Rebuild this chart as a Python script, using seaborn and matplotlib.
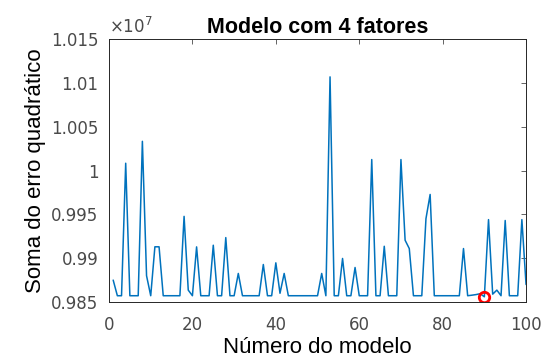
import matplotlib
matplotlib.use("Agg")
import matplotlib.pyplot as plt
import matplotlib.ticker as mticker
import numpy as np
import pandas as pd
import seaborn as sns

# Sum of squared errors per model (in units of 1e7)
B = 0.98572
modelo = list(range(1, 101))
sse = [
    0.98750, B, B, 1.00083, B, B, B, 1.00333, 0.98800, B,          # 1-10
    0.99130, 0.99130, B, B, B, B, B, 0.99477, 0.98636, B,           # 11-20
    0.99129, B, B, B, 0.99148, B, B, 0.99235, B, B,                 # 21-30
    0.98826, B, B, B, B, B, 0.98928, B, B, 0.98947,                 # 31-40
    0.98600, 0.98826, B, B, B, B, B, B, B, B,                       # 41-50
    0.98826, B, 1.01068, B, B, 0.98997, B, B, 0.98894, B,           # 51-60
    B, B, 1.00125, B, B, 0.99136, B, B, B, 1.00125,                 # 61-70
    0.99205, 0.99110, B, B, B, 0.99451, 0.99727, B, B, B,           # 71-80
    B, B, B, B, 0.99110, B, 0.98578, 0.98585, 0.98595, 0.98560,     # 81-90
    0.99440, 0.98590, 0.98636, B, 0.99430, B, B, B, 0.99440, 0.98700,  # 91-100
]
escala = 1e7
melhor_modelo = 90
x_ticks = [0, 20, 40, 60, 80, 100]
y_ticks = [0.985, 0.99, 0.995, 1.0, 1.005, 1.01, 1.015]

df = pd.DataFrame({"modelo": modelo, "sse": np.array(sse) * escala})

sns.set_style("white")
plt.rcParams["font.family"] = ["Liberation Sans", "DejaVu Sans"]

fig = plt.figure(figsize=(5.44, 3.60), dpi=100)
ax = fig.add_axes([0.2004, 0.161, 0.7666, 0.7307])

sns.lineplot(data=df, x="modelo", y="sse", ax=ax, color="#0072BD", linewidth=1.1)

best = df[df["modelo"] == melhor_modelo]
ax.plot(best["modelo"], best["sse"], linestyle="none", marker="o",
        markersize=7.5, markerfacecolor="none", markeredgecolor="#FF0000",
        markeredgewidth=2)

ax.set_xlim(0, 100)
ax.set_ylim(y_ticks[0] * escala, y_ticks[-1] * escala)
ax.set_xticks(x_ticks)
ax.set_yticks([v * escala for v in y_ticks])
ax.yaxis.set_major_formatter(mticker.FuncFormatter(lambda v, p: f"{v / escala:g}"))

tick_gray = "#4a4a4a"
ax.tick_params(axis="both", which="both", direction="in", length=3.5, width=0.6,
               colors=tick_gray, labelsize=12, top=True, right=True)
for lab in ax.get_xticklabels() + ax.get_yticklabels():
    lab.set_family("DejaVu Sans")
ax.tick_params(axis="x", pad=10)
ax.tick_params(axis="y", pad=7.5)
for s in ax.spines.values():
    s.set_color("#262626")
    s.set_linewidth(0.7)

ax.text(0.0, 1.008, r"$\times10^{7}$", transform=ax.transAxes, ha="left",
        va="bottom", fontsize=12, color=tick_gray, family="DejaVu Sans")

ax.set_title("Modelo com 4 fatores", fontsize=15.5, fontweight="bold", pad=4,
             color="black")
ax.set_xlabel("Número do modelo", fontsize=16, labelpad=2, color="black")
ax.set_ylabel("Soma do erro quadrático", fontsize=16, labelpad=4, color="black")

fig.savefig("out.png", dpi=100)
